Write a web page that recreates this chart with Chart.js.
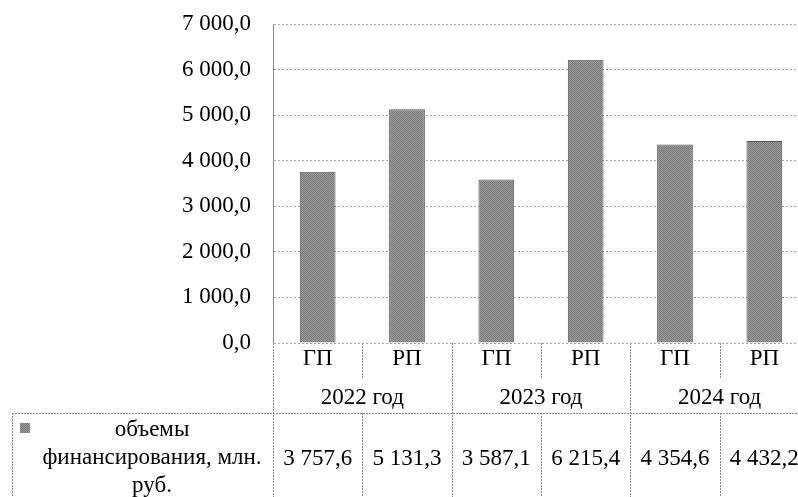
<!DOCTYPE html>
<html>
<head>
<meta charset="utf-8">
<script src="https://cdn.jsdelivr.net/npm/chart.js@4/dist/chart.umd.min.js"></script>
<style>
  html, body { margin: 0; padding: 0; background: #fff; overflow: hidden; }
  #wrap { width: 810px; height: 497px; }
</style>
</head>
<body>
<div id="wrap"><canvas id="fin-chart"></canvas></div>
<script>
// данные
var categories = ["ГП", "РП", "ГП", "РП", "ГП", "РП"];
var years = ["2022 год", "2023 год", "2024 год"];
var seriesName = ["объемы", "финансирования, млн.", "руб."];
var volumes = [3757.6, 5131.3, 3587.1, 6215.4, 4354.6, 4432.2];
var yMin = 0, yMax = 7000, yStep = 1000;

var FONT = "'Liberation Serif', 'Times New Roman', serif";

function fmt(v) {
    var p = v.toFixed(1).split(".");
    return p[0].replace(/\B(?=(\d{3})+(?!\d))/g, " ") + "," + p[1];
}

// серая "зернистая" заливка как в скане
function makePattern() {
    var c = document.createElement("canvas");
    c.width = 2; c.height = 2;
    var g = c.getContext("2d");
    g.fillStyle = "#9c9c9c"; g.fillRect(0, 0, 2, 2);
    g.fillStyle = "#787878"; g.fillRect(0, 0, 1, 1); g.fillRect(1, 1, 1, 1);
    return g.createPattern(c, "repeat");
}
var barFill = makePattern();

var tablePlugin = {
    id: "dataTable",
    afterDraw: function (chart) {
        var ctx = chart.ctx, x = chart.scales.x, a = chart.chartArea;
        var w = x.getPixelForValue(1) - x.getPixelForValue(0);
        var rowTop = 413, bottom = chart.height, catBottom = 378;

        function line(x1, y1, x2, y2) {
            ctx.beginPath();
            ctx.moveTo(x1, y1);
            ctx.lineTo(x2, y2);
            ctx.stroke();
        }

        ctx.save();
        ctx.strokeStyle = "#8a8a8a";
        ctx.lineWidth = 1;
        ctx.setLineDash([2, 1]);

        var left = Math.round(a.left) + 0.5;
        line(left, a.bottom, left, bottom);
        for (var i = 1; i <= categories.length; i++) {
            var xb = Math.round(x.getPixelForValue(i) - w / 2) + 0.5;
            if (i % 2 === 0) {
                line(xb, a.bottom, xb, bottom);
            } else {
                line(xb, a.bottom, xb, catBottom);
                line(xb, rowTop, xb, bottom);
            }
        }
        line(12, rowTop + 0.5, chart.width, rowTop + 0.5);
        line(12.5, rowTop, 12.5, bottom);
        ctx.setLineDash([]);

        ctx.fillStyle = "#000";
        ctx.font = "23px " + FONT;
        ctx.textAlign = "center";
        ctx.textBaseline = "middle";
        categories.forEach(function (c, i) {
            var cx = x.getPixelForValue(i);
            ctx.fillText(c, cx, 359);
            ctx.fillText(fmt(volumes[i]), cx, 459);
        });
        years.forEach(function (y, j) {
            var cx = (x.getPixelForValue(j * 2) + x.getPixelForValue(j * 2 + 1)) / 2;
            ctx.fillText(y, cx, 398);
        });

        // легенда в таблице
        ctx.fillStyle = barFill;
        ctx.fillRect(20, 423, 10, 10);
        ctx.fillStyle = "#000";
        seriesName.forEach(function (s, k) {
            ctx.fillText(s, 152, 430 + k * 28);
        });
        ctx.restore();
    }
};

var ctx = document.getElementById("fin-chart").getContext("2d");

var finChart = new Chart(ctx, {
    type: "bar",
    data: {
        labels: categories,
        datasets: [
            {
                label: seriesName.join(" "),
                data: volumes,
                backgroundColor: barFill,
                borderColor: "#555",
                borderWidth: 1,
                barPercentage: 0.4,
                categoryPercentage: 1.0,
            },
        ],
    },
    options: {
        responsive: true,
        maintainAspectRatio: false,
        animation: false,
        layout: { padding: { top: 24, right: 1, bottom: 0, left: 0 } },
        plugins: {
            legend: { display: false },
            tooltip: { enabled: false },
        },
        scales: {
            x: {
                offset: true,
                grid: { display: false, drawTicks: false },
                border: { display: false },
                ticks: { display: false },
                afterFit: function (s) { s.height = 154; },
            },
            y: {
                min: yMin,
                max: yMax,
                grid: {
                    color: "#a8a8a8",
                    lineWidth: 1,
                    drawTicks: true,
                    tickLength: 22,
                    tickColor: "rgba(0,0,0,0)",
                },
                border: { display: true, color: "#8a8a8a", dash: [2, 2] },
                ticks: {
                    stepSize: yStep,
                    padding: 0,
                    color: "#000",
                    font: { family: FONT, size: 23 },
                    callback: function (v) { return fmt(v); },
                },
                afterFit: function (s) { s.width = 273; },
            },
        },
    },
    plugins: [tablePlugin],
});
</script>
</body>
</html>
